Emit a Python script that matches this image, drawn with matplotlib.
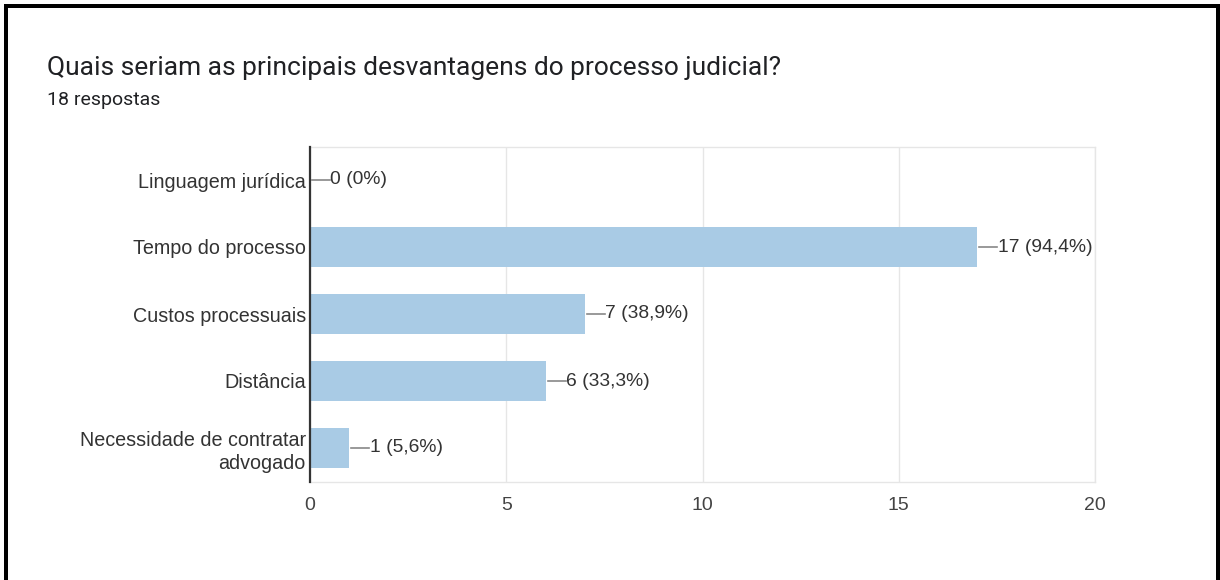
import matplotlib
matplotlib.use("Agg")
import matplotlib.pyplot as plt
from matplotlib.lines import Line2D

title = "Quais seriam as principais desvantagens do processo judicial?"
subtitle = "18 respostas"
categories = ["Linguagem jurídica", "Tempo do processo", "Custos processuais",
              "Distância", "Necessidade de contratar\nadvogado"]
values = [0, 17, 7, 6, 1]
percents = ["0%", "94,4%", "38,9%", "33,3%", "5,6%"]
xticks = [0, 5, 10, 15, 20]

W, H = 1220, 580
fig = plt.figure(figsize=(W / 100, H / 100), dpi=100)
fig.patch.set_facecolor("white")

ax = fig.add_axes([310 / W, 1 - 481.5 / H, (1095 - 310) / W, (481.5 - 146.5) / H])
txt = "#333333"
bar_color = "#a9cbe5"
grid_c = "#e6e6e6"

y = list(range(len(categories)))
ax.barh(y, values, height=0.6, color=bar_color, edgecolor="none", zorder=2)
ax.set_xlim(0, 20)
ax.set_ylim(len(categories) - 0.5, -0.5)
ax.set_xticks(xticks)
ax.set_xticklabels([str(t) for t in xticks])
ax.set_yticks(y)
ax.set_yticklabels(categories, fontsize=14.2, color=txt, family="Liberation Sans",
                   linespacing=1.25)
for lab in ax.get_xticklabels():
    lab.set_fontsize(14)
    lab.set_color("#444444")
    lab.set_family("Liberation Sans")
ax.tick_params(axis="both", length=0)
ax.tick_params(axis="y", pad=3)
ax.tick_params(axis="x", pad=11)
ax.grid(axis="x", color=grid_c, linewidth=1, zorder=0)
for side in ["top", "right", "bottom"]:
    ax.spines[side].set_color(grid_c)
    ax.spines[side].set_linewidth(1)
ax.spines["left"].set_color("#333333")
ax.spines["left"].set_linewidth(1.6)
ax.spines["left"].set_zorder(3)

unit = (1095 - 310) / 20.0
for yi, v, p in zip(y, values, percents):
    ax.plot([v + 2 / unit, v + 20 / unit], [yi, yi], color="#888888", lw=1.2,
            zorder=3, clip_on=False)
    ax.text(v + 20.5 / unit, yi, f"{v} ({p})", va="center", ha="left", fontsize=13.9,
            color=txt, family="Liberation Sans", zorder=4)

fig.text(47 / W, 1 - 68 / H, title, fontsize=19, color="#202124",
         family="Roboto", va="center", ha="left")
fig.text(47 / W, 1 - 100 / H, subtitle, fontsize=14, color="#202124",
         family="Roboto", va="center", ha="left")

# black frame (top, left, right; bottom is cut off)
lw = 4 * 72 / 100
fig.add_artist(Line2D([5.5 / W, 5.5 / W], [0, 1 - 5.5 / H], color="black", lw=lw,
                      transform=fig.transFigure, solid_capstyle="projecting"))
fig.add_artist(Line2D([1217.5 / W, 1217.5 / W], [0, 1 - 5.5 / H], color="black", lw=lw,
                      transform=fig.transFigure, solid_capstyle="projecting"))
fig.add_artist(Line2D([5.5 / W, 1217.5 / W], [1 - 5.5 / H, 1 - 5.5 / H], color="black",
                      lw=lw, transform=fig.transFigure, solid_capstyle="projecting"))

fig.savefig("out.png", dpi=100, facecolor="white")
